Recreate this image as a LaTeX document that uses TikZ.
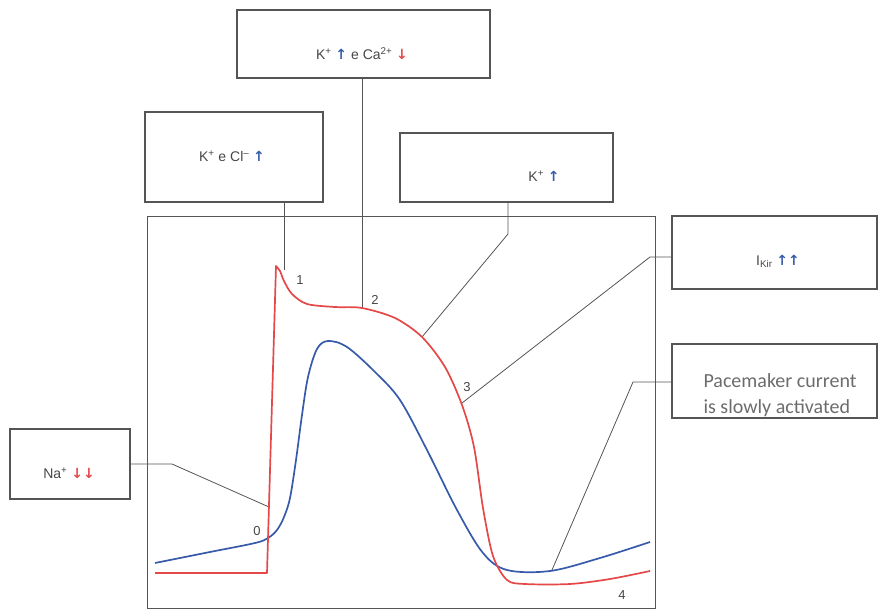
\documentclass[tikz,border=0pt]{standalone}
\usepackage{fontspec}
\setmainfont{Liberation Sans}
\newfontfamily\notefont{Carlito}
\newfontfamily\arrowfont{DejaVu Sans}
\definecolor{apred}{RGB}{228,72,72}
\definecolor{apblue}{RGB}{55,90,170}
\definecolor{boxgray}{RGB}{85,85,85}
\definecolor{txtgray}{RGB}{70,70,70}
\newcommand{\upb}{\textcolor{apblue}{\arrowfont\bfseries ↑}}
\newcommand{\dnr}{\textcolor{apred}{\arrowfont\bfseries ↓}}
\tikzset{
  ionbox/.style={draw=boxgray, line width=1.3pt, inner sep=0pt},
  iontext/.style={text=txtgray, inner sep=0pt, font=\fontsize{14}{16}\selectfont},
  notetext/.style={text=gray!85!black, inner sep=0pt, align=left, font=\notefont\fontsize{20}{26}\selectfont},
  plotframe/.style={draw=boxgray, line width=1pt},
  lead/.style={boxgray, line width=0.8pt},
  redtrace/.style={apred, line width=1.7pt, line join=round},
  bluetrace/.style={apblue, line width=1.7pt},
  phase/.style={text=txtgray, inner sep=0pt, font=\fontsize{13}{15}\selectfont}
}
\begin{document}
\begin{tikzpicture}[x=1pt, y=-1pt]
  \useasboundingbox (0,0) rectangle (878,610);

  \node[plotframe, minimum width=508pt, minimum height=392pt] (frame) at (401,412) {};

  \node[ionbox, minimum width=253pt, minimum height=68pt] (cabox) at (363.5,44) {};
  \node[ionbox, minimum width=178pt, minimum height=90pt] (clbox) at (234,157) {};
  \node[ionbox, minimum width=213pt, minimum height=69pt] (kbox) at (506.5,167.5) {};
  \node[ionbox, minimum width=205pt, minimum height=73pt] (kirbox) at (774.5,252.5) {};
  \node[ionbox, minimum width=205pt, minimum height=74pt] (pacebox) at (774.5,381) {};
  \node[ionbox, minimum width=120pt, minimum height=70pt] (nabox) at (70,464) {};

  \node[iontext] (catext) at (362,54) {K\textsuperscript{+} \upb{} e Ca\textsuperscript{2+} \dnr};
  \node[iontext] (cltext) at (232,156) {K\textsuperscript{+} e Cl\textsuperscript{--} \upb};
  \node[iontext] (ktext) at (544,176) {K\textsuperscript{+} \upb};
  \node[iontext] (kirtext) at (778,261) {I\textsubscript{Kir} \upb\upb};
  \node[notetext] (pacetext) at (780,395) {Pacemaker current\\is slowly activated};
  \node[iontext] (natext) at (69,473) {Na\textsuperscript{+} \dnr\dnr};

  \coordinate (p0) at (269,507);
  \coordinate (p1) at (284,270);
  \coordinate (p2) at (362,308);
  \coordinate (p3a) at (422,337);
  \coordinate (p3b) at (462,403);
  \coordinate (p4) at (552,570);
  \coordinate (kbend) at (508,234);
  \coordinate (kirbend) at (650,257);
  \coordinate (pacebend) at (633,382);
  \coordinate (nabend) at (172,464);

  \draw[lead] (clbox.south -| p1) -- (p1);
  \draw[lead] (cabox.south -| p2) -- (p2);
  \draw[lead] (kbox.south -| kbend) -- (kbend) -- (p3a);
  \draw[lead] (kirbend -| kirbox.west) -- (kirbend) -- (p3b);
  \draw[lead] (pacebend -| pacebox.west) -- (pacebend) -- (p4);
  \draw[lead] (nabox.east) -- (nabend) -- (p0);

  \draw[bluetrace] plot[smooth, tension=0.55] coordinates {(155,563) (210,552) (255,543) (268,538) (277,530) (284,517) (290,498) (296,460) (302,415) (308,377) (317,349) (328,341) (347,347) (375,372) (400,400) (427,450) (457,510) (483,553) (507,570) (550,571) (600,558) (650,542)};
  \draw[redtrace] (155,573) -- (267,573) -- (276,266) -- plot[smooth, tension=0.5] coordinates {(276,266) (280,271) (284,281) (292,294) (307,304) (335,307) (362,308) (395,318) (422,337) (445,367) (462,405) (474,447) (483,508) (493,556) (507,580) (525,584) (570,584) (610,579) (650,571)};

  \node[phase] (n0) at (257,531) {0};
  \node[phase] (n1) at (300,280) {1};
  \node[phase] (n2) at (375,300) {2};
  \node[phase] (n3) at (467,387) {3};
  \node[phase] (n4) at (622,595) {4};
\end{tikzpicture}
\end{document}
